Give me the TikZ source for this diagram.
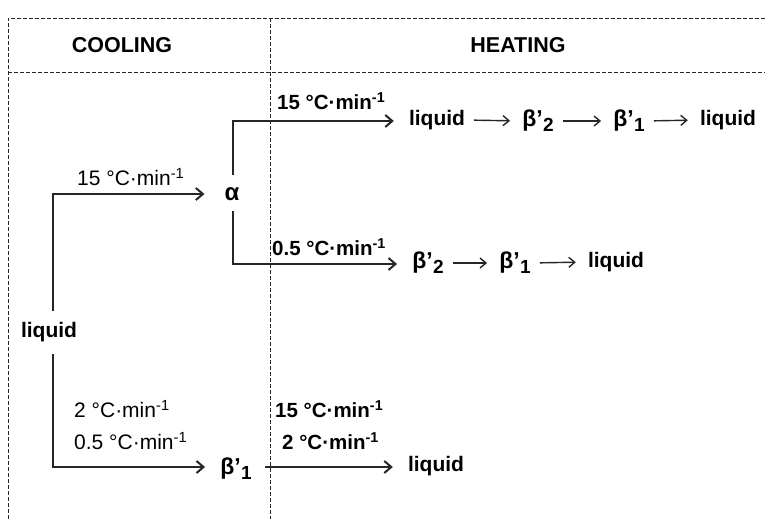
\documentclass[tikz,border=0pt]{standalone}
\usepackage{fontspec}
\setmainfont{Liberation Sans}
\usetikzlibrary{arrows.meta}
\newcommand\rate[1]{#1 °C·min\textsuperscript{-1}}
\newcommand\bsub[1]{{\fontsize{23}{24}\selectfont β'}\kern0.5pt\raisebox{-0.22em}{\fontsize{19}{20}\selectfont #1}}
\begin{document}
\begin{tikzpicture}[x=1pt,y=-1pt,
  grid/.style={line width=0.7pt, dash pattern=on 4pt off 2pt, black!85},
  conn/.style={line width=2.3pt, black!85, -{Straight Barb[length=7pt,width=12pt,line width=2pt]}},
  tarrow/.style={line width=1.4pt, black!85, -{Straight Barb[length=6pt,width=10pt,line width=1.4pt]}, shorten <=9pt, shorten >=12pt},
  main/.style={inner sep=0pt, font=\fontsize{21}{24}\selectfont\bfseries},
  head/.style={inner sep=0pt, font=\fontsize{21.5}{24}\selectfont\bfseries},
  labr/.style={inner sep=0pt, anchor=west, font=\fontsize{21}{24}\selectfont},
  labb/.style={inner sep=0pt, anchor=west, font=\fontsize{20.5}{24}\selectfont\bfseries}]
\useasboundingbox (0,0) rectangle (765,519);
% frame
\draw[grid] (8,519) -- (8,18) -- (765,18);
\draw[grid] (8,72) -- (765,72);
\draw[grid] (270,18) -- (270,519);
% headers
\node[head] (hc) at (122,45) {COOLING};
\node[head] (hh) at (518,45) {HEATING};
% main nodes
\node[main] (liqL) at (49,332) {liquid};
\node[main, font=\fontsize{24}{24}\selectfont\bfseries] (alpha) at (232,194) {α};
\node[main] (b1c) at (236,469) {\bsub{1}};
\node[main] (liqB) at (436,466) {liquid};
\node[main] (r1a) at (437,120) {liquid};
\node[main] (r1b) at (538,121) {\bsub{2}};
\node[main] (r1c) at (629,121) {\bsub{1}};
\node[main] (r1d) at (728,120) {liquid};
\node[main] (r2a) at (428,263) {\bsub{2}};
\node[main] (r2b) at (515,263) {\bsub{1}};
\node[main] (r2c) at (616,262) {liquid};
% corners
\coordinate (c1) at (53,194);
\coordinate (c2) at (233,121);
\coordinate (c3) at (233,264);
\coordinate (c4) at (53,467);
% connectors
\draw[conn, shorten <=11pt, shorten >=20pt] (c1 |- liqL.north) -- (c1) -- (alpha.west);
\draw[conn, shorten <=12pt, shorten >=15pt] (c2 |- alpha.north) -- (c2) -- (c2 -| r1a.west);
\draw[conn, shorten <=10pt, shorten >=15pt] (c3 |- alpha.south) -- (c3) -- (c3 -| r2a.west);
\draw[conn, shorten <=12pt, shorten >=15pt] (c4 |- liqL.south) -- (c4) -- (c4 -| b1c.west);
\draw[conn, shorten <=13pt, shorten >=15pt] (c4 -| b1c.east) -- (c4 -| liqB.west);
% text arrows
\draw[tarrow] (r1a.east) -- (r1b.west);
\draw[tarrow] (r1b.east) -- (r1c.west);
\draw[tarrow] (r1c.east) -- (r1d.west);
\draw[tarrow] (r2a.east) -- (r2b.west);
\draw[tarrow] (r2b.east) -- (r2c.west);
% labels
\node[labr] (l1) at (77,177) {\rate{15}};
\node[labb] (l2) at (277,101) {\rate{15}};
\node[labb] (l3) at (272,247) {\rate{0.5}};
\node[labr] (l4) at (74,409) {\rate{2}};
\node[labr] (l5) at (74,441) {\rate{0.5}};
\node[labb] (l6) at (275,409) {\rate{15}};
\node[labb] (l7) at (282,441) {\rate{2}};
\end{tikzpicture}
\end{document}
